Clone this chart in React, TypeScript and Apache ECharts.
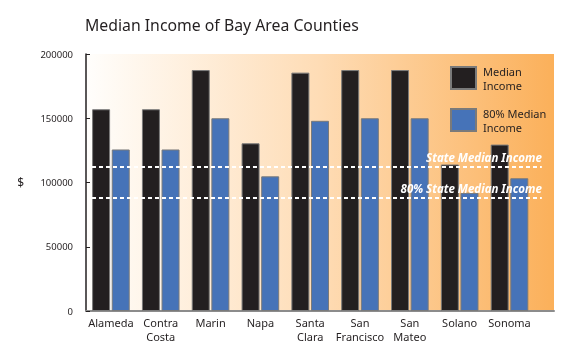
import React, { useEffect, useRef } from "react";
import * as echarts from "echarts";

const categories = ["Alameda", "Contra\nCosta", "Marin", "Napa", "Santa\nClara", "San\nFrancisco", "San\nMateo", "Solano", "Sonoma"];
const medianIncome = [157000, 157000, 187500, 130500, 185500, 187500, 187500, 114000, 129500];
const eightyPctIncome = [125700, 125700, 150000, 104800, 148000, 150000, 150000, 92000, 103300];
const seriesNames = ["Median\nIncome", "80% Median\nIncome"];
const refValues = [112300, 88500];
const refLabels = ["State Median Income", "80% State Median Income"];
const refSpan = [0.0128, 0.974];
const yTicks = { min: 0, max: 200000, interval: 50000 };

const FONT = "'Noto Sans', sans-serif";
const TEXT = "#231f20";

export default function App() {
  const ref = useRef<HTMLDivElement>(null);
  useEffect(() => {
    if (!ref.current) return;
    const chart = echarts.init(ref.current, undefined, { renderer: "svg" });
    const gridTop = 54;
    const gridBottom = 51;
    chart.setOption({
      animation: false,
      textStyle: { fontFamily: FONT },
      title: {
        text: "Median Income of Bay Area Counties",
        left: 85,
        top: 17,
        padding: 0,
        textStyle: { fontFamily: FONT, fontSize: 15.8, fontWeight: "normal", color: TEXT },
      },
      legend: {
        orient: "vertical",
        left: 450,
        top: 64,
        padding: 0,
        itemWidth: 25,
        itemHeight: 22,
        itemGap: 14,
        icon: "rect",
        data: seriesNames,
        textStyle: { fontFamily: FONT, fontSize: 11, color: TEXT, lineHeight: 14, padding: [0, 0, 0, 2] },
      },
      grid: [
        {
          left: 86,
          right: 21,
          top: gridTop,
          bottom: gridBottom,
          show: true,
          borderWidth: 0,
          backgroundColor: new echarts.graphic.LinearGradient(0, 0, 1, 0, [
            { offset: 0, color: "#fffefc" },
            { offset: 0.5, color: "#fedcb5" },
            { offset: 1, color: "#fbb05a" },
          ]),
        },
        { left: 86, right: 40.6, top: gridTop, bottom: gridBottom },
      ],
      xAxis: [
        {
          gridIndex: 0,
          type: "value",
          min: 0,
          max: 1,
          position: "top",
          axisLine: { show: true, lineStyle: { color: "#8c8c8c", width: 2 } },
          axisTick: { show: false },
          axisLabel: { show: false },
          splitLine: { show: false },
        },
        {
          gridIndex: 1,
          type: "category",
          data: categories,
          axisLine: { show: false },
          axisTick: { show: false },
          axisLabel: { fontFamily: FONT, fontSize: 11, color: TEXT, lineHeight: 14, margin: 4, interval: 0 },
        },
      ],
      yAxis: [
        {
          gridIndex: 0,
          type: "value",
          min: yTicks.min,
          max: yTicks.max,
          show: false,
          splitLine: { show: false },
        },
        {
          gridIndex: 1,
          type: "value",
          min: yTicks.min,
          max: yTicks.max,
          interval: yTicks.interval,
          name: "$",
          nameLocation: "middle",
          nameRotate: 0,
          nameGap: 62,
          nameTextStyle: { fontFamily: FONT, fontSize: 12, color: TEXT },
          axisLine: { show: true, lineStyle: { color: TEXT, width: 1.5 } },
          axisTick: { show: true, inside: true, length: 4, lineStyle: { color: TEXT } },
          axisLabel: { fontFamily: FONT, fontSize: 9.5, color: TEXT, margin: 13, formatter: (v: number) => String(v) },
          splitLine: { show: false },
        },
      ],
      series: [
        {
          name: seriesNames[0],
          type: "bar",
          xAxisIndex: 1,
          yAxisIndex: 1,
          data: medianIncome,
          barWidth: 18,
          barGap: "9%",
          itemStyle: { color: "#231f20", borderColor: "#7a7a7a", borderWidth: 1 },
          z: 2,
        },
        {
          name: seriesNames[1],
          type: "bar",
          xAxisIndex: 1,
          yAxisIndex: 1,
          data: eightyPctIncome,
          barWidth: 18,
          itemStyle: { color: "#4673b8", borderColor: "#7a7a7a", borderWidth: 1 },
          z: 2,
        },
        {
          name: "ref",
          type: "line",
          xAxisIndex: 0,
          yAxisIndex: 0,
          data: [],
          z: 5,
          markLine: {
            silent: true,
            symbol: "none",
            z: 5,
            lineStyle: { color: "#ffffff", type: [4, 3], width: 2 },
            label: {
              show: true,
              position: "insideEndTop",
              distance: [0, 3],
              color: "#ffffff",
              fontFamily: FONT,
              fontSize: 11.5,
              fontStyle: "italic",
              fontWeight: "bold",
              formatter: (p: any) => p.name,
            },
            data: refValues.map((v, i) => [
              { name: refLabels[i], coord: [refSpan[0], v] },
              { coord: [refSpan[1], v] },
            ]),
          },
        },
      ],
    });
    return () => chart.dispose();
  }, []);
  return <div ref={ref} style={{ position: "fixed", left: 0, top: 0, width: 575, height: 362 }} />;
}
